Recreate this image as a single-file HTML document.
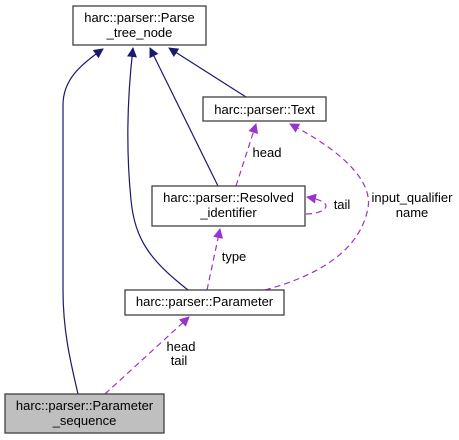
<!DOCTYPE html>
<html><head><style>
html,body{margin:0;padding:0;background:#fff;}
svg{display:block;font-family:"Liberation Sans",Arial,sans-serif;font-size:13px;}
</style></head><body>
<svg width="459" height="440" viewBox="0 0 459 440">
<defs>
<marker id="nb" markerWidth="10" markerHeight="10" refX="9" refY="5" orient="auto" markerUnits="userSpaceOnUse"><path d="M0,0 L10,5 L0,10 z" fill="#191970"/></marker>
<marker id="pp" markerWidth="10" markerHeight="10" refX="9" refY="5" orient="auto" markerUnits="userSpaceOnUse"><path d="M0,0 L10,5 L0,10 z" fill="#9a32cd"/></marker>
</defs>
<g fill="none" stroke="#191970" stroke-width="1.2">
<path d="M78,394 C70,360 63,330 63,290 L63,105 C63,80 80,65 103,49" marker-end="url(#nb)"/>
<path d="M188,290 C150,260 135,240 131,200 C126,150 127,100 133,48" marker-end="url(#nb)"/>
<path d="M218,186 L150,48" marker-end="url(#nb)"/>
<path d="M246,97 L169,48" marker-end="url(#nb)"/>
</g>
<g fill="none" stroke="#9a32cd" stroke-width="1.2" stroke-dasharray="6,4">
<path d="M236,186 L256,124" marker-end="url(#pp)"/>
<path d="M306,214 C318,214 326,210 326,206 C326,202 318,199 307,197" marker-end="url(#pp)"/>
<path d="M265,290 C320,275 360,250 368,208 C373,180 340,150 290,124" marker-end="url(#pp)"/>
<path d="M207,290 L220,229" marker-end="url(#pp)"/>
<path d="M105,394 L189,317" marker-end="url(#pp)"/>
</g>
<g stroke="#404040" stroke-width="1.3">
<rect x="73" y="6" width="133" height="39" fill="#fff"/>
<rect x="203" y="97" width="123" height="24" fill="#fff"/>
<rect x="152" y="186" width="153" height="40" fill="#fff"/>
<rect x="125" y="290" width="159" height="25" fill="#fff"/>
<rect x="5" y="394" width="159" height="39" fill="#bfbfbf"/>
</g>
<g fill="#000" text-anchor="middle">
<text x="139.5" y="22">harc::parser::Parse</text>
<text x="139.5" y="37">_tree_node</text>
<text x="264.5" y="114">harc::parser::Text</text>
<text x="228.5" y="202">harc::parser::Resolved</text>
<text x="228.5" y="217">_identifier</text>
<text x="204.5" y="306">harc::parser::Parameter</text>
<text x="84.5" y="410">harc::parser::Parameter</text>
<text x="84.5" y="425">_sequence</text>
<text x="267" y="157">head</text>
<text x="342" y="209">tail</text>
<text x="412" y="202">input_qualifier</text>
<text x="412" y="217">name</text>
<text x="234" y="261">type</text>
<text x="181" y="351">head</text>
<text x="179" y="365">tail</text>
</g>
</svg>
</body></html>
